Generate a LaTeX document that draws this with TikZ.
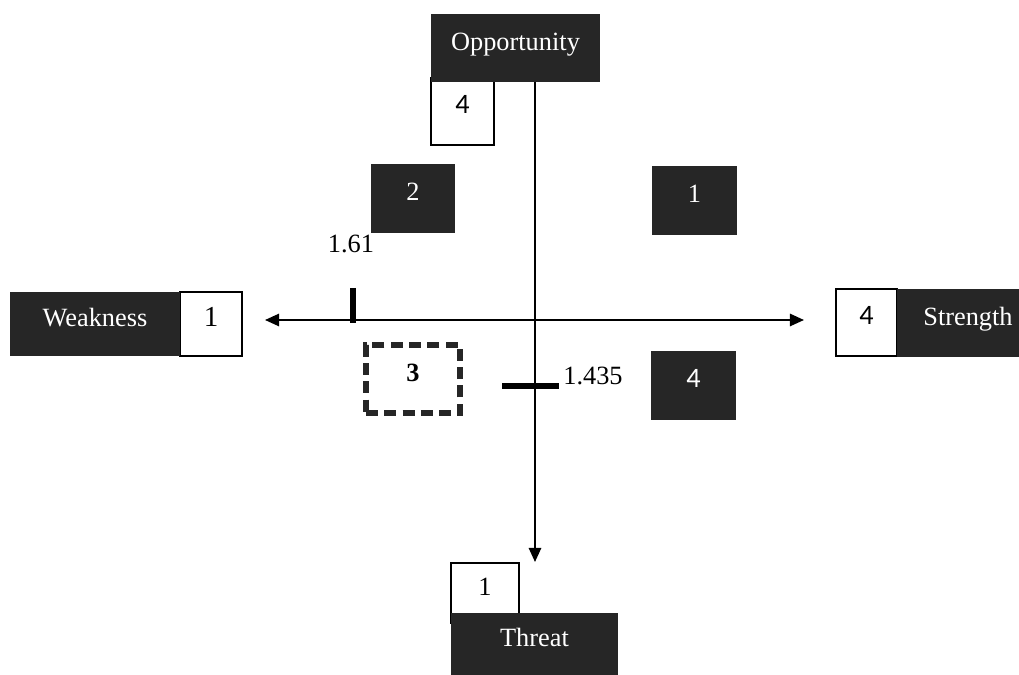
\documentclass[tikz,border=0pt]{standalone}
\usepackage{fontspec}
\setmainfont{Liberation Serif}
\newfontfamily\numfont{Carlito}
\usetikzlibrary{arrows.meta}
\definecolor{swotDark}{HTML}{262626}
\tikzset{
  swotfig/.style={
    x=0.02cm, y=-0.02cm,
    every node/.append style={font=\fontsize{15}{18}\selectfont},
    >={Triangle[length=8pt, width=7pt]},
  },
  darkbox/.style={
    fill=swotDark, text=white, inner sep=0pt, align=center,
    text height=2.5mm, text depth=1.5mm,
  },
  numbox/.style={darkbox, fill=white, text=black, draw=black, line width=0.6pt},
  dashbox/.style={numbox, draw=swotDark, line width=3.4pt,
    dash pattern=on 6.8pt off 3.6pt, font=\fontsize{15}{18}\selectfont\bfseries},
  axis/.style={draw=black, line width=1.1pt},
  tickmark/.style={draw=black, line width=3.3pt},
  ticklabel/.style={inner sep=0pt, text=black},
}
\begin{document}
\begin{tikzpicture}[swotfig]
  \useasboundingbox (0,0) rectangle (1019,675);
  % Achsen-Enden
  \coordinate (oFoot) at (535,82);
  \coordinate (tTip) at (535,562);
  \coordinate (wTip) at (265,320);
  \coordinate (sTip) at (804,320);
  % Zahlenfelder an den Achsen (liegen hinter den dunklen Feldern)
  \node[numbox, minimum width=1.26cm, minimum height=1.34cm] (OppNum) at (462.5,111.5) {\numfont\fontsize{16}{18}\selectfont 4};
  \node[numbox, minimum width=1.36cm, minimum height=1.2cm] (ThreatNum) at (485,593) {1};
  \node[numbox, minimum width=1.24cm, minimum height=1.28cm] (WeakNum) at (211,324) {\fontsize{16.5}{19}\selectfont 1};
  \node[numbox, minimum width=1.22cm, minimum height=1.34cm] (StrNum) at (866.5,322.5) {\numfont\fontsize{16}{18}\selectfont 4};
  % Achsenbeschriftungen
  \node[darkbox, minimum width=3.38cm, minimum height=1.36cm] (Opportunity) at (515.5,48) {Opportunity};
  \node[darkbox, minimum width=3.34cm, minimum height=1.24cm] (Threat) at (534.5,644) {Threat};
  \node[darkbox, minimum width=3.40cm, minimum height=1.28cm] (Weakness) at (95,324) {Weakness};
  \node[darkbox, minimum width=2.44cm, minimum height=1.36cm] (Strength) at (958,323) {\hspace*{4mm}Strength};
  % Quadranten
  \node[darkbox, minimum width=1.68cm, minimum height=1.38cm] (QuadTwo) at (413,198.5) {2};
  \node[darkbox, minimum width=1.70cm, minimum height=1.38cm] (QuadOne) at (694.5,200.5) {1};
  \node[darkbox, minimum width=1.70cm, minimum height=1.38cm] (QuadFour) at (693.5,385.5) {\numfont\fontsize{16}{18}\selectfont 4};
  \node[dashbox, minimum width=1.88cm, minimum height=1.36cm] (QuadThree) at (413,379) {3};
  \draw[axis, <->] (wTip) -- (sTip);
  \draw[axis, ->] (oFoot) -- (tTip);
  % Schnittpunkt der Werte
  \coordinate (tickXtop) at (353,288);
  \coordinate (tickXbot) at (353,323);
  \coordinate (tickYleft) at (502,386);
  \coordinate (tickYright) at (559,386);
  \draw[tickmark] (tickXtop) -- (tickXbot);
  \draw[tickmark] (tickYleft) -- (tickYright);
  \node[ticklabel, anchor=base] (ValX) at (351,253) {1.61};
  \node[ticklabel, anchor=base west] (ValY) at (563,385) {1.435};
\end{tikzpicture}
\end{document}
